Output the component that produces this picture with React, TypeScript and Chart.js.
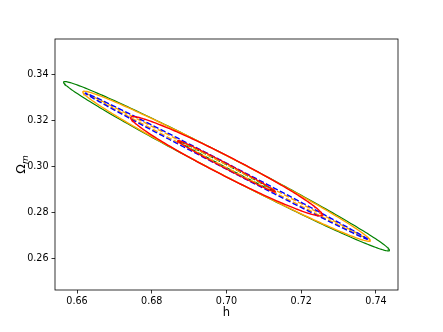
import React, { useEffect, useRef } from "react";
import { Chart, registerables } from "chart.js";

Chart.register(...registerables);

// Ellipse (Fisher-style contour) parameters: centre, half extents along h and Ωm, correlation
const ellipseNames = ["red", "redInner", "blueDashed", "orangeDashed", "orange", "green", "greenInner"];
const centerH = [0.7, 0.7, 0.7, 0.7, 0.7, 0.7, 0.7];
const centerOm = [0.3, 0.3, 0.3, 0.3, 0.3, 0.3, 0.3];
const halfH = [0.02564, 0.0131, 0.0378, 0.0372, 0.03845, 0.0436, 0.0131];
const halfOm = [0.0216, 0.0112, 0.0318, 0.0313, 0.0326, 0.0368, 0.0111];
const rho = [-0.976, -0.994, -0.99915, -0.9998, -0.99, -0.992, -0.9985];

const xTicks = [0.66, 0.68, 0.7, 0.72, 0.74];
const yTicks = [0.26, 0.28, 0.3, 0.32, 0.34];
const xRange = [0.6541, 0.7459];
const yRange = [0.2462, 0.3553];

const styles: Record<string, { color: string; dash: number[]; width: number }> = {
  red: { color: "#ff0000", dash: [], width: 1.4 },
  redInner: { color: "#ff0000", dash: [], width: 1.2 },
  blueDashed: { color: "#0000ff", dash: [5.5, 2.4], width: 1.4 },
  orangeDashed: { color: "#ffa500", dash: [5.5, 2.4], width: 1.4 },
  orange: { color: "#ffa500", dash: [], width: 1.4 },
  green: { color: "#008000", dash: [], width: 1.2 },
  greenInner: { color: "#008000", dash: [5.5, 2.4], width: 1.2 },
};

function ellipsePoints(i: number) {
  const pts: { x: number; y: number }[] = [];
  const n = 240;
  const s = Math.sqrt(1 - rho[i] * rho[i]);
  for (let k = 0; k <= n; k++) {
    const t = (2 * Math.PI * k) / n;
    pts.push({
      x: centerH[i] + halfH[i] * Math.cos(t),
      y: centerOm[i] + halfOm[i] * (rho[i] * Math.cos(t) + s * Math.sin(t)),
    });
  }
  return pts;
}

const framePlugin = {
  id: "frame",
  afterDraw(chart: any) {
    const { ctx, chartArea } = chart;
    ctx.save();
    ctx.strokeStyle = "#000";
    ctx.lineWidth = 0.8;
    ctx.strokeRect(chartArea.left, chartArea.top, chartArea.right - chartArea.left, chartArea.bottom - chartArea.top);
    // y-axis label Ω_m
    const cy = (chartArea.top + chartArea.bottom) / 2;
    ctx.translate(21, cy);
    ctx.rotate(-Math.PI / 2);
    ctx.fillStyle = "#000";
    ctx.textBaseline = "alphabetic";
    ctx.font = "12.5px 'DejaVu Sans'";
    const w1 = ctx.measureText("Ω").width;
    ctx.font = "italic 9px 'DejaVu Sans'";
    const w2 = ctx.measureText("m").width;
    const x0 = -(w1 + w2) / 2;
    ctx.font = "12.5px 'DejaVu Sans'";
    ctx.fillText("Ω", x0, 4);
    ctx.font = "italic 9px 'DejaVu Sans'";
    ctx.fillText("m", x0 + w1, 7);
    ctx.restore();
  },
};

export default function App() {
  const ref = useRef<HTMLCanvasElement>(null);
  useEffect(() => {
    if (!ref.current) return;
    const datasets = ellipseNames.map((name, i) => ({
      label: name,
      data: ellipsePoints(i),
      showLine: true,
      pointRadius: 0,
      borderColor: styles[name].color,
      borderWidth: styles[name].width,
      borderDash: styles[name].dash,
      fill: false,
      tension: 0,
    }));
    const tickFont = { family: "'DejaVu Sans'", size: 9.6 };
    const chart = new Chart(ref.current, {
      type: "scatter",
      data: { datasets },
      plugins: [framePlugin],
      options: {
        animation: false,
        responsive: false,
        devicePixelRatio: 1,
        layout: { padding: { left: 0, right: 45, top: 39, bottom: 0 } },
        plugins: { legend: { display: false }, tooltip: { enabled: false } },
        scales: {
          x: {
            type: "linear",
            min: xRange[0],
            max: xRange[1],
            afterBuildTicks: (s: any) => {
              s.ticks = xTicks.map((v) => ({ value: v }));
            },
            afterFit: (s: any) => {
              s.height = 42;
            },
            ticks: {
              color: "#000",
              font: tickFont,
              padding: 2,
              maxRotation: 0,
              callback: (v: any) => Number(v).toFixed(2),
            },
            grid: { drawOnChartArea: false, drawTicks: true, tickLength: 3.5, color: "#000", lineWidth: 0.8 },
            border: { display: false },
            title: {
              display: true,
              text: "h",
              color: "#000",
              font: { family: "'DejaVu Sans'", size: 11.5 },
              padding: { top: 0, bottom: 12 },
            },
          },
          y: {
            type: "linear",
            min: yRange[0],
            max: yRange[1],
            afterBuildTicks: (s: any) => {
              s.ticks = yTicks.map((v) => ({ value: v }));
            },
            afterFit: (s: any) => {
              s.width = 55;
            },
            ticks: {
              color: "#000",
              font: tickFont,
              padding: 3,
              callback: (v: any) => Number(v).toFixed(2),
            },
            grid: { drawOnChartArea: false, drawTicks: true, tickLength: 3.5, color: "#000", lineWidth: 0.8 },
            border: { display: false },
          },
        },
      },
    } as any);
    return () => chart.destroy();
  }, []);
  return (
    <div style={{ position: "fixed", left: 0, top: 0, width: 443, height: 332, background: "#fff" }}>
      <canvas ref={ref} width={443} height={332} style={{ display: "block" }} />
    </div>
  );
}
